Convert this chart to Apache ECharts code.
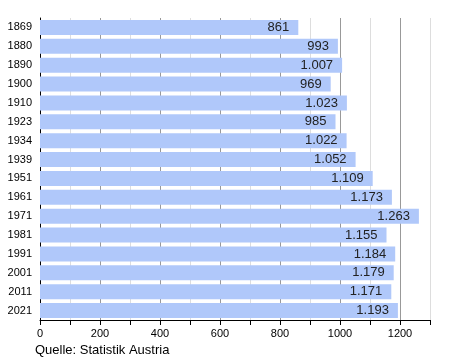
<!DOCTYPE html>
<html><head><meta charset="utf-8">
<script src="https://cdn.jsdelivr.net/npm/echarts@6/dist/echarts.min.js"></script>
<style>html,body{margin:0;padding:0;background:#fff}#c{width:450px;height:360px}</style>
</head><body><div id="c"></div>
<script>
const years = ['1869','1880','1890','1900','1910','1923','1934','1939','1951','1961','1971','1981','1991','2001','2011','2021'];
const population = [861,993,1007,969,1023,985,1022,1052,1109,1173,1263,1155,1184,1179,1171,1193];
const xTicks = [0,200,400,600,800,1000,1200];
const source = 'Quelle: Statistik Austria';

const font = 'Liberation Sans, Arial, sans-serif';
function fmt(v){ return String(v).replace(/\B(?=(\d{3})+(?!\d))/g,'.'); }

const chart = echarts.init(document.getElementById('c'));
chart.setOption({
  animation:false,
  textStyle:{fontFamily:font},
  grid:{left:40,right:20,top:18,bottom:40,containLabel:false},
  xAxis:{
    type:'value',min:0,max:1300,interval:100,
    axisLine:{show:true,lineStyle:{color:'#000',width:1}},
    axisTick:{show:true,length:5,lineStyle:{color:'#000'}},
    axisLabel:{color:'#000',fontSize:11,fontFamily:font,margin:8,
      formatter:v=> xTicks.includes(v)? String(v):''},
    splitLine:{show:true,lineStyle:{color:['#999','#ddd'],width:1}}
  },
  yAxis:{
    type:'category',data:years,inverse:true,
    axisLine:{show:true,lineStyle:{color:'#000',width:1}},
    axisTick:{show:false},
    axisLabel:{color:'#000',fontSize:11,fontFamily:font,margin:8},
    splitLine:{show:false}
  },
  series:[{
    type:'bar',data:population,barCategoryGap:'20%',
    itemStyle:{color:'#b0c8fa'},
    label:{show:true,position:'insideRight',distance:9,color:'#222',fontSize:13,fontFamily:font,
      formatter:p=>fmt(p.value)}
  }],
  graphic:[{type:'text',left:35,top:344,style:{text:source,fontSize:13,fontFamily:font,fill:'#000'}}]
});
</script></body></html>
